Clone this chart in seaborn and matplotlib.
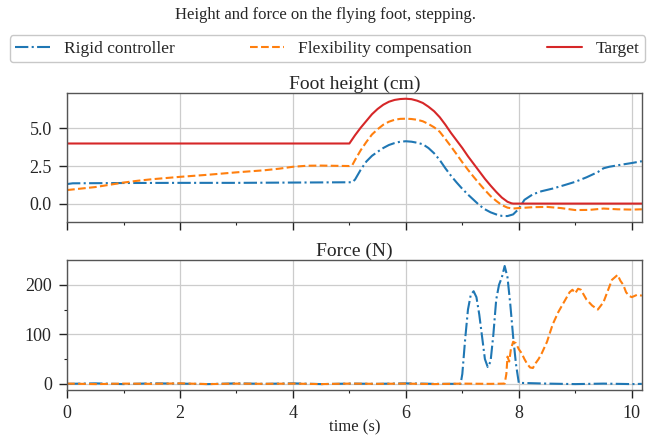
import numpy as np
import pandas as pd
import seaborn as sns
import matplotlib.pyplot as plt
from matplotlib.ticker import MultipleLocator

# Foot height (cm)
t_target = [0.0, 5.0, 5.1, 5.2, 5.3, 5.4, 5.5, 5.6, 5.7, 5.8, 5.9, 6.0, 6.1, 6.2, 6.3,
            6.4, 6.5, 6.6, 6.7, 6.8, 6.9, 7.0, 7.1, 7.2, 7.3, 7.4, 7.5, 7.6, 7.7, 7.8,
            7.87, 7.9, 10.18]
h_target = [4.0, 4.0, 4.55, 5.05, 5.5, 5.95, 6.3, 6.58, 6.78, 6.9, 6.96, 6.98, 6.95, 6.85, 6.7,
            6.45, 6.15, 5.75, 5.25, 4.7, 4.2, 3.7, 3.15, 2.65, 2.15, 1.65, 1.2, 0.78, 0.4, 0.12,
            0.02, 0.0, 0.0]

t_flex_h = [0.0, 0.25, 0.5, 0.75, 1.0, 1.25, 1.5, 1.75, 2.0, 2.5, 3.0, 3.5, 3.75, 4.0, 4.25,
            4.5, 5.0, 5.05, 5.1, 5.2, 5.3, 5.4, 5.5, 5.6, 5.7, 5.8, 5.9, 6.0, 6.1, 6.2,
            6.3, 6.4, 6.5, 6.6, 6.7, 6.8, 6.9, 7.0, 7.1, 7.2, 7.3, 7.4, 7.5, 7.6, 7.7,
            7.8, 7.9, 8.0, 8.25, 8.5, 8.75, 9.0, 9.25, 9.5, 9.75, 10.0, 10.18]
h_flex = [0.9, 1.0, 1.1, 1.25, 1.4, 1.52, 1.62, 1.7, 1.78, 1.92, 2.08, 2.22, 2.32, 2.45, 2.52,
          2.53, 2.5, 2.55, 2.9, 3.55, 4.1, 4.6, 4.95, 5.25, 5.45, 5.58, 5.64, 5.65, 5.63, 5.58,
          5.48, 5.3, 5.08, 4.78, 4.3, 3.8, 3.28, 2.75, 2.25, 1.78, 1.33, 0.9, 0.5, 0.18, -0.1,
          -0.27, -0.33, -0.3, -0.24, -0.22, -0.3, -0.43, -0.42, -0.33, -0.38, -0.4, -0.38]

t_rigid_h = [0.0, 0.1, 1.0, 2.0, 3.0, 4.0, 5.05, 5.1, 5.2, 5.3, 5.4, 5.5, 5.6, 5.7, 5.8,
             5.9, 6.0, 6.1, 6.2, 6.3, 6.4, 6.5, 6.6, 6.7, 6.8, 6.9, 7.0, 7.1, 7.2, 7.3,
             7.4, 7.5, 7.6, 7.7, 7.8, 7.9, 8.0, 8.1, 8.25, 8.4, 8.6, 8.8, 9.0, 9.2, 9.4,
             9.5, 9.6, 9.8, 10.0, 10.18]
h_rigid = [1.3, 1.35, 1.37, 1.38, 1.38, 1.4, 1.42, 1.6, 2.25, 2.8, 3.18, 3.45, 3.7, 3.9, 4.03,
           4.12, 4.15, 4.12, 4.05, 3.95, 3.7, 3.35, 2.9, 2.35, 1.85, 1.4, 0.98, 0.6, 0.25, -0.1,
           -0.38, -0.58, -0.72, -0.82, -0.83, -0.72, -0.35, 0.25, 0.62, 0.82, 1.0, 1.22, 1.45, 1.75, 2.1,
           2.35, 2.45, 2.58, 2.7, 2.82]

# Force (N)
t_rigid_f = [0.0, 0.5, 1.0, 1.5, 2.0, 2.5, 3.0, 3.5, 4.0, 4.5, 5.0, 5.5, 6.0, 6.5, 6.97,
             7.0, 7.05, 7.1, 7.15, 7.2, 7.25, 7.3, 7.35, 7.4, 7.45, 7.5, 7.55, 7.6, 7.65,
             7.7, 7.75, 7.8, 7.85, 7.9, 7.95, 8.0, 8.5, 9.0, 9.5, 10.0, 10.18]
f_rigid = [0.0, 1.0, -0.5, 1.0, 0.5, -0.5, 1.0, 0.0, 1.0, -0.5, 0.5, 0.0, 1.0, 0.0, 0.0,
           20, 90, 150, 180, 187, 175, 140, 95, 50, 34, 45, 100, 170, 200,
           215, 238, 215, 160, 95, 40, 2, 0.5, -0.5, 0.5, -0.5, 0.0]

t_flex_f = [0.0, 0.5, 1.0, 1.5, 2.0, 2.5, 3.0, 3.5, 4.0, 4.5, 5.0, 5.5, 6.0, 6.5, 7.0,
            7.5, 7.75, 7.78, 7.8, 7.83, 7.86, 7.9, 7.95, 8.0, 8.05, 8.1, 8.15, 8.2, 8.25,
            8.3, 8.35, 8.4, 8.5, 8.6, 8.7, 8.8, 8.9, 8.95, 9.0, 9.05, 9.1, 9.15, 9.2,
            9.3, 9.4, 9.5, 9.6, 9.65, 9.7, 9.75, 9.8, 9.85, 9.9, 9.95, 10.0, 10.1, 10.18]
f_flex = [0.5, -0.5, 0.5, 0.0, 1.0, -0.5, 0.5, 0.0, 0.5, -0.5, 0.5, 0.0, 0.5, -0.5, 0.5,
          0.0, 0.5, 20, 55, 45, 70, 85, 82, 70, 62, 50, 40, 33, 32,
          42, 50, 60, 85, 120, 145, 165, 185, 190, 183, 192, 190, 180, 170,
          158, 150, 165, 195, 210, 215, 220, 208, 200, 185, 178, 175, 180, 178]

labels = ["Rigid controller", "Flexibility compensation", "Target"]
colors = ["#1f77b4", "#ff7f0e", "#d62728"]
styles = ["-.", "--", "-"]

sns.set_theme(style="whitegrid")
plt.rcParams['font.family'] = ['Liberation Serif', 'DejaVu Serif']

fig = plt.figure(figsize=(6.51, 4.36), dpi=100)
ax_h = fig.add_axes([0.103, 0.491, 0.883, 0.296])
ax_f = fig.add_axes([0.103, 0.1055, 0.883, 0.298], sharex=ax_h)

height_series = [(t_rigid_h, h_rigid), (t_flex_h, h_flex), (t_target, h_target)]
for (tt, yy), lab, c, ls in zip(height_series, labels, colors, styles):
    sns.lineplot(x=tt, y=yy, ax=ax_h, color=c, linestyle=ls, linewidth=1.5,
                 label=lab, errorbar=None, sort=False)

force_series = [(t_rigid_f, f_rigid), (t_flex_f, f_flex)]
for (tt, yy), lab, c, ls in zip(force_series, labels[:2], colors[:2], styles[:2]):
    sns.lineplot(x=tt, y=yy, ax=ax_f, color=c, linestyle=ls, linewidth=1.5,
                 errorbar=None, sort=False, legend=False)

handles, labs = ax_h.get_legend_handles_labels()
ax_h.get_legend().remove()

for ax in (ax_h, ax_f):
    ax.set_xlim(0, 10.18)
    ax.xaxis.set_major_locator(MultipleLocator(2))
    ax.xaxis.set_minor_locator(MultipleLocator(1))
    ax.grid(True, which='major', color='#cccccc', linewidth=0.9)
    ax.grid(False, which='minor')
    for sp in ax.spines.values():
        sp.set_color('#555555')
        sp.set_linewidth(1.0)
    ax.tick_params(which='major', direction='out', length=6, width=1, color='#222222',
                   labelsize=13, bottom=True, left=True, pad=5)
    ax.tick_params(which='minor', direction='out', length=2.5, width=0.8, color='#222222',
                   bottom=True, left=True)
    ax.set_ylabel('')

ax_h.set_yticks([0.0, 2.5, 5.0])
ax_h.set_yticklabels(['0.0', '2.5', '5.0'])
ax_h.tick_params(axis='x', labelbottom=False)
ax_h.set_title('Foot height (cm)', fontsize=14, pad=2)

ax_f.set_yticks([0, 100, 200])
ax_f.yaxis.set_minor_locator(MultipleLocator(50))
ax_f.set_title('Force (N)', fontsize=14, pad=2)
ax_f.set_xlabel('time (s)', fontsize=12, labelpad=-2)

fig.suptitle('Height and force on the flying foot, stepping.', fontsize=12, y=0.966, va='center')
leg = fig.legend(handles, labs, loc='lower left', ncol=3, mode='expand',
                 bbox_to_anchor=(10 / 651, 1 - 62 / 436, 635 / 651, 28 / 436),
                 fontsize=12.5, frameon=True, borderaxespad=0, handlelength=2.0,
                 borderpad=0.3)
leg.get_frame().set_edgecolor('#bbbbbb')
leg.get_frame().set_linewidth(1.0)

fig.savefig('out.png', dpi=100)
